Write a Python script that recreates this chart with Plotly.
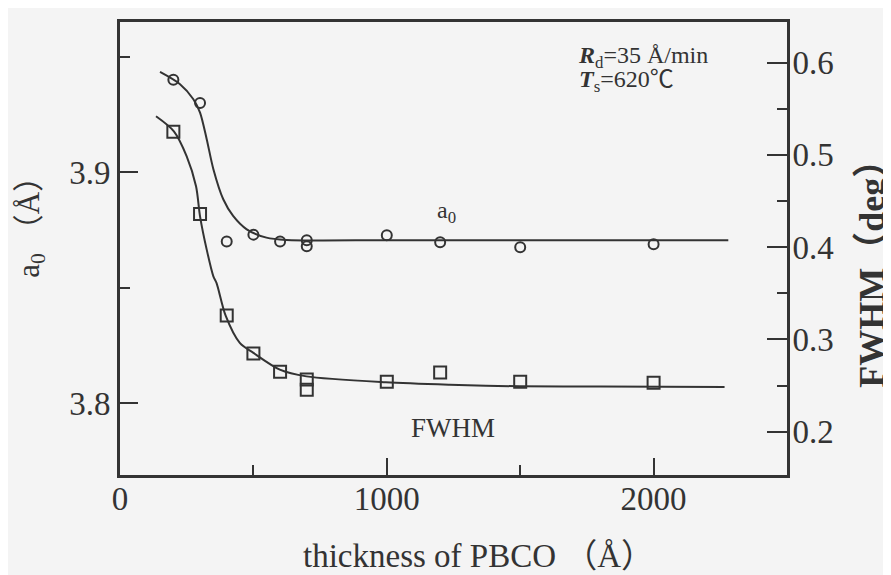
import plotly.graph_objects as go

# ---- data ----
a0_x = [200, 300, 400, 500, 600, 700, 700, 1000, 1200, 1500, 2000]
a0_y = [3.940, 3.930, 3.870, 3.873, 3.870, 3.8706, 3.868, 3.8727, 3.8697, 3.8675, 3.8688]

fwhm_x = [200, 300, 400, 500, 600, 700, 700, 1000, 1200, 1500, 2000]
fwhm_y = [0.525, 0.436, 0.326, 0.2846, 0.265, 0.2564, 0.2455, 0.2542, 0.264, 0.254, 0.253]

a0_fit_x = [150, 225, 275, 300, 325, 350, 387, 424, 475, 549, 624, 1000, 1500, 2280]
a0_fit_y = [3.9434, 3.9381, 3.9316, 3.9258, 3.9143, 3.9013, 3.8883, 3.8811, 3.8753, 3.8717, 3.8707, 3.8706, 3.8706, 3.8706]

fwhm_fit_x = [135, 202, 250, 285, 300, 325, 350, 362, 396, 449, 500, 599, 699, 996, 1236, 1498, 1800, 2266]
fwhm_fit_y = [0.5418, 0.5255, 0.4984, 0.4659, 0.4334, 0.3973, 0.3683, 0.361, 0.3257, 0.2962, 0.2853, 0.2672, 0.2599, 0.2535, 0.2509, 0.2491, 0.2488, 0.2485]

x_ticks = [0, 1000, 2000]
x_minor = [500, 1500]
y_ticks = [3.8, 3.9]
y_minor = [3.85, 3.95]
y2_ticks = [0.2, 0.3, 0.4, 0.5, 0.6]
y2_minor = [0.25, 0.35, 0.45, 0.55]

INK = "#333333"
BG = "#f4f4f4"
SERIF = "Liberation Serif, Times New Roman, Noto Sans CJK JP, serif"

fig = go.Figure()

fig.add_trace(go.Scatter(x=a0_fit_x, y=a0_fit_y, mode="lines",
                         line=dict(color=INK, width=2, shape="spline", smoothing=0.8),
                         showlegend=False, hoverinfo="skip"))
fig.add_trace(go.Scatter(x=a0_x, y=a0_y, mode="markers",
                         marker=dict(symbol="circle-open", size=10, color=INK, line=dict(width=2, color=INK)),
                         showlegend=False))
fig.add_trace(go.Scatter(x=fwhm_fit_x, y=fwhm_fit_y, mode="lines", yaxis="y2",
                         line=dict(color=INK, width=2, shape="spline", smoothing=0.8),
                         showlegend=False, hoverinfo="skip"))
fig.add_trace(go.Scatter(x=fwhm_x, y=fwhm_y, mode="markers", yaxis="y2",
                         marker=dict(symbol="square-open", size=12, color=INK, line=dict(width=2, color=INK)),
                         showlegend=False))

tickfont = dict(family=SERIF, size=33, color=INK)

fig.update_layout(
    width=883, height=567,
    margin=dict(l=112, r=104, t=14, b=100),
    paper_bgcolor=BG, plot_bgcolor=BG,
    xaxis=dict(range=[0, 2500], tickvals=x_ticks, ticktext=[str(v) for v in x_ticks],
               ticks="inside", ticklen=17, tickwidth=2, tickcolor=INK,
               minor=dict(tickvals=x_minor, ticks="inside", ticklen=10, tickwidth=2, tickcolor=INK),
               showline=True, linecolor=INK, linewidth=3, mirror=True,
               showgrid=False, zeroline=False, tickfont=tickfont, ticklabelstandoff=-8),
    yaxis=dict(range=[3.769, 3.965], tickvals=y_ticks, ticktext=["3.8", "3.9"],
               ticks="inside", ticklen=18, tickwidth=2, tickcolor=INK,
               minor=dict(tickvals=y_minor, ticks="inside", ticklen=10, tickwidth=2, tickcolor=INK),
               showline=True, linecolor=INK, linewidth=3,
               showgrid=False, zeroline=False, tickfont=tickfont),
    yaxis2=dict(range=[0.153, 0.644], tickvals=y2_ticks, ticktext=[f"{v:.1f}" for v in y2_ticks],
                overlaying="y", side="right",
                ticks="inside", ticklen=20, tickwidth=2, tickcolor=INK,
                minor=dict(tickvals=y2_minor, ticks="inside", ticklen=10, tickwidth=2, tickcolor=INK),
                showline=True, linecolor=INK, linewidth=3,
                showgrid=False, zeroline=False, tickfont=tickfont, ticklabelstandoff=-4),
    annotations=[
        dict(text="a<sub>0</sub> （Å）", xref="paper", yref="paper", x=-0.134, y=0.565,
             xanchor="center", yanchor="middle",
             textangle=-90, showarrow=False, font=dict(family=SERIF, size=31, color=INK)),
        dict(text="<b>FWHM（deg）</b>", xref="paper", yref="paper", x=1.128, y=0.465,
             xanchor="center", yanchor="middle",
             textangle=-90, showarrow=False, font=dict(family=SERIF, size=36, color=INK)),
        dict(text="thickness of PBCO （Å）", xref="paper", yref="paper", x=0.538, y=-0.179,
             xanchor="center", yanchor="middle",
             showarrow=False, font=dict(family=SERIF, size=33, color=INK)),
        dict(text="a<sub>0</sub>", xref="x", yref="y", x=1225, y=3.8827,
             showarrow=False, font=dict(family=SERIF, size=24, color=INK)),
        dict(text="FWHM", xref="x", yref="y2", x=1247, y=0.2043,
             showarrow=False, font=dict(family=SERIF, size=27, color=INK)),
        dict(text="<b><i>R</i></b><sub>d</sub>=35 Å/min", xref="x", yref="y", x=1708, y=3.9498,
             xanchor="left", yanchor="middle", showarrow=False, font=dict(family=SERIF, size=24, color=INK)),
        dict(text="<b><i>T</i></b><sub>s</sub>=620℃", xref="x", yref="y", x=1712, y=3.9394,
             xanchor="left", yanchor="middle", showarrow=False, font=dict(family=SERIF, size=24, color=INK)),
    ],
)

fig.write_html("out.html")
